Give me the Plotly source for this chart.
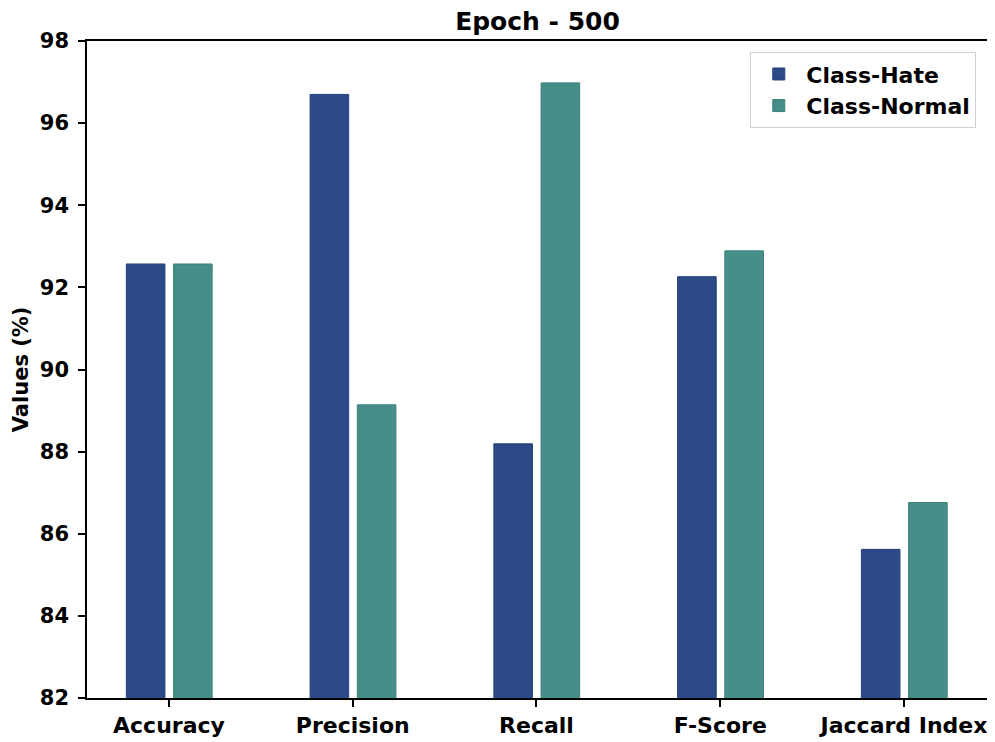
import plotly.graph_objects as go

categories = ["Accuracy", "Precision", "Recall", "F-Score", "Jaccard Index"]
class_hate = [92.57, 96.70, 88.19, 92.26, 85.62]
class_normal = [92.57, 89.14, 96.98, 92.89, 86.76]
y_ticks = [82, 84, 86, 88, 90, 92, 94, 96, 98]

FONT = "DejaVu Sans"
x_idx = list(range(len(categories)))

fig = go.Figure()
fig.add_trace(go.Bar(
    x=x_idx, y=class_hate, name="<b>Class-Hate</b>",
    width=0.21, offset=-0.232,
    marker=dict(color="#2C4A87", line=dict(color="#24407A", width=1)),
))
fig.add_trace(go.Bar(
    x=x_idx, y=class_normal, name="<b>Class-Normal</b>",
    width=0.21, offset=0.025,
    marker=dict(color="#468F88", line=dict(color="#3A8079", width=1)),
))

fig.update_layout(
    width=995, height=742,
    margin=dict(l=79, r=15, t=33, b=52),
    paper_bgcolor="white", plot_bgcolor="white",
    barmode="overlay",
    font=dict(family=FONT, size=21, color="black"),
    title=dict(text="<b>Epoch - 500</b>", x=0.5, xref="paper", xanchor="center",
               y=0.982, yanchor="middle", font=dict(size=25, family=FONT)),
    legend=dict(x=0.987, y=0.983, xanchor="right", yanchor="top",
                bgcolor="white", bordercolor="#D0D0D0", borderwidth=1,
                font=dict(size=22, family=FONT), itemwidth=45),
    showlegend=True,
    annotations=[dict(text="<b>Values (%)</b>", xref="paper", yref="paper",
                      x=-0.0735, y=0.5, xanchor="center", yanchor="middle",
                      textangle=-90, showarrow=False,
                      font=dict(size=21, family=FONT, color="black"))],
)
fig.update_xaxes(
    range=[-0.446, 4.457], tickmode="array", tickvals=x_idx,
    ticktext=[f"<b>{c}</b>" for c in categories],
    showline=True, linecolor="black", linewidth=1.5, mirror=True,
    ticks="outside", ticklen=7, tickwidth=1.5, tickcolor="black",
    showgrid=False, zeroline=False, tickfont=dict(size=22, family=FONT),
)
fig.update_yaxes(
    range=[82, 98], tickmode="array", tickvals=y_ticks,
    ticktext=[f"<b>{v}</b>" for v in y_ticks],
    showline=True, linecolor="black", linewidth=1.5, mirror=True,
    ticks="outside", ticklen=7, tickwidth=1.5, tickcolor="black",
    ticklabelstandoff=5,
    showgrid=False, zeroline=False, tickfont=dict(size=21, family=FONT),
)

fig.write_html("out.html")
